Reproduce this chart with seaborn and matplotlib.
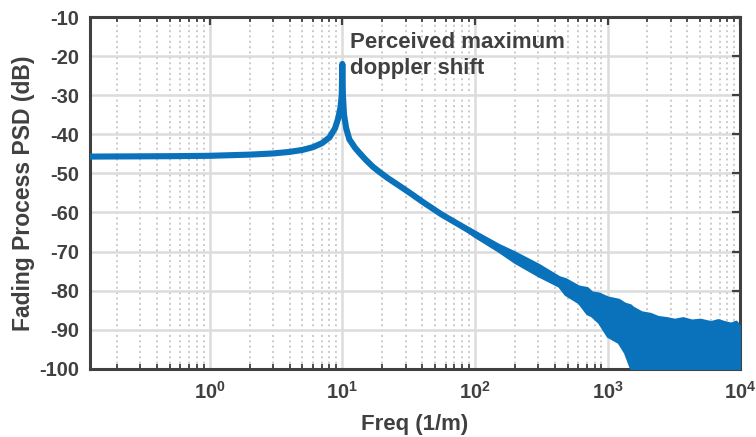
import matplotlib
matplotlib.use("Agg")
import matplotlib.pyplot as plt
import seaborn as sns
import numpy as np
import pandas as pd
from matplotlib.ticker import LogLocator, FixedLocator, NullFormatter, FuncFormatter

# ---- data ----
line_freq = [0.125, 0.5, 1, 2, 3, 4, 5, 6, 7, 8, 8.8, 9.3, 9.7, 9.9, 10.0,
             10.1, 10.3, 10.7, 11.3, 12.5, 13.5, 15, 17, 19, 22, 27, 33, 40,
             56, 75, 100, 150]
line_psd = [-45.7, -45.6, -45.5, -45.2, -44.9, -44.5, -44.0, -43.3, -42.3, -40.8,
            -38.5, -36.0, -33.0, -30.0, -22.0,
            -30.0, -35.0, -38.5, -41.3, -43.5, -44.8, -46.5, -48.3, -49.6, -51.2,
            -53.2, -55.2, -57.2, -60.5, -63.0, -65.5, -69.0]

band_freq = [80, 100, 150, 200, 300, 430, 480, 605, 700, 760, 860, 1000, 1210,
             1350, 1480, 1550, 1800, 2100, 2400, 2800, 3200, 3700, 4300, 5000,
             6000, 6800, 7600, 8500, 9300, 10000]
band_upper = [-63.1, -64.9, -68.2, -70.2, -73.3, -76.5, -77.0, -78.9, -79.3, -80.4,
              -80.7, -81.7, -82.3, -83.3, -83.7, -84.3, -85.5, -85.9, -86.7, -87.0,
              -87.4, -87.0, -87.6, -87.4, -88.0, -87.5, -88.0, -88.4, -87.9, -89.3]
band_lower = [-63.7, -66.1, -69.8, -72.7, -76.1, -78.8, -80.9, -83.0, -85.8, -86.4,
              -88.1, -91.6, -93.2, -95.8, -99.4, -101, -101, -101, -101, -101,
              -101, -101, -101, -101, -101, -101, -101, -101, -101, -101]

yticks = list(range(-100, -9, 10))
x_limits = (0.125, 1e4)
y_limits = (-100, -10)
annotation = "Perceived maximum\ndoppler shift"
xlabel = "Freq (1/m)"
ylabel = "Fading Process PSD (dB)"

# ---- styling ----
sns.set_theme(style="white")
plt.rcParams['font.family'] = ['Liberation Sans', 'DejaVu Sans']
plt.rcParams['mathtext.fontset'] = 'custom'
plt.rcParams['mathtext.rm'] = 'Liberation Sans:bold'
plt.rcParams['mathtext.it'] = 'Liberation Sans:bold'
plt.rcParams['mathtext.bf'] = 'Liberation Sans:bold'

blue = '#0A72BA'
dark = '#404040'

fig = plt.figure(figsize=(7.56, 4.37), dpi=100)
ax = fig.add_axes([0.119, 0.156, 0.860, 0.805])

df = pd.DataFrame({'freq': line_freq, 'psd': line_psd})
sns.lineplot(data=df, x='freq', y='psd', ax=ax, color=blue, linewidth=4.4,
             solid_capstyle='round', solid_joinstyle='round', zorder=3)
ax.fill_between(band_freq, band_lower, band_upper, color=blue, linewidth=2.0,
                edgecolor=blue, zorder=3)

ax.set_xscale('log')
ax.set_xlim(*x_limits)
ax.set_ylim(*y_limits)
ax.set_yticks(yticks)
ax.set_yticklabels([str(v) for v in yticks])

ax.xaxis.set_major_locator(FixedLocator([1, 10, 100, 1000, 10000]))
ax.xaxis.set_major_formatter(FuncFormatter(lambda v, p: r'$10^{%d}$' % int(round(np.log10(v)))))
ax.xaxis.set_minor_locator(LogLocator(base=10, subs=np.arange(2, 10), numticks=20))
ax.xaxis.set_minor_formatter(NullFormatter())

ax.grid(True, which='major', axis='both', color='#dcdcdc', linewidth=1.8, linestyle='-', zorder=0)
ax.grid(True, which='minor', axis='x', color='#bdbdbd', linewidth=1.1, linestyle=(0, (1.3, 2.2)), zorder=0)
ax.set_axisbelow(True)

for s in ax.spines.values():
    s.set_visible(True)
    s.set_color(dark)
    s.set_linewidth(2.2)

ax.tick_params(axis='both', which='major', direction='in', length=6, width=1.6,
               color=dark, top=True, right=True, labelsize=14.5, labelcolor=dark)
ax.tick_params(axis='y', which='major', pad=8)
ax.tick_params(axis='x', which='major', pad=9)
ax.tick_params(axis='x', which='minor', direction='in', length=3.5, width=1.3,
               color=dark, top=True, bottom=True)
for lab in ax.get_yticklabels() + ax.get_xticklabels():
    lab.set_fontweight('bold')

ax.set_xlabel(xlabel, fontsize=16, fontweight='bold', color=dark, labelpad=8)
ax.set_ylabel(ylabel, fontsize=16.5, fontweight='bold', color=dark, labelpad=3)

ax.text(11.5, -13.7, annotation, fontsize=16, fontweight='bold', color=dark,
        va='top', ha='left', linespacing=1.35)

fig.savefig('out.png', dpi=100)
